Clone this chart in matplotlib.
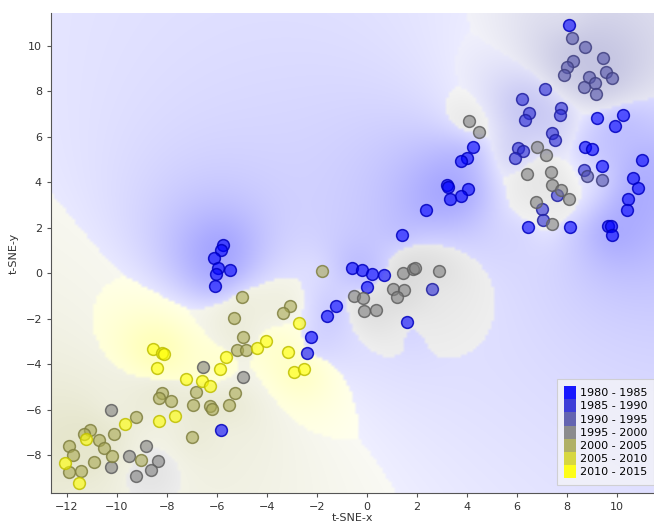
import numpy as np
import matplotlib
matplotlib.use("Agg")
import matplotlib.pyplot as plt
from matplotlib.patches import Patch

# classes (period of the record), colours go blue -> gray -> yellow
periods = ["1980 - 1985", "1985 - 1990", "1990 - 1995", "1995 - 2000",
           "2000 - 2005", "2005 - 2010", "2010 - 2015"]
period_colors = [(0, 0, 255), (43, 43, 213), (85, 85, 170), (128, 128, 128),
                 (170, 170, 85), (213, 213, 43), (255, 255, 0)]

# t-SNE coordinates, one list per period
pts_1980 = [(8.09, 10.9), (9.19, 6.8), (10.25, 6.93), (9.93, 6.45), (8.73, 5.54), (8.99, 5.45),
            (11.01, 4.97), (9.41, 4.72), (10.65, 4.19), (10.83, 3.72), (10.44, 3.27), (10.4, 2.77),
            (6.43, 2.04), (8.12, 2.04), (9.64, 2.07), (9.75, 2.05), (9.8, 1.67),
            (4.23, 5.52), (3.99, 5.07), (3.76, 4.92), (3.19, 3.87), (3.25, 3.8), (4.05, 3.69),
            (3.77, 3.4), (3.32, 3.27), (2.36, 2.77), (1.4, 1.67),
            (-5.75, 1.23), (-5.84, 1.01), (-6.12, 0.64), (-5.95, 0.2), (-5.48, 0.13),
            (-6.05, -0.04), (-6.08, -0.57),
            (-0.61, 0.23), (-0.21, 0.13), (0.21, -0.04), (0.69, -0.09), (-0.01, -0.62),
            (1.59, -2.15), (-1.25, -1.45), (-1.59, -1.9), (-2.25, -2.8), (-2.39, -3.53),
            (-5.85, -6.89)]
pts_1985 = [(7.11, 8.09), (6.2, 7.63), (6.47, 7.05), (6.31, 6.73), (7.77, 7.27), (7.73, 6.93),
            (7.39, 6.17), (7.52, 5.85), (6.03, 5.51), (6.25, 5.35), (5.91, 5.04), (8.68, 4.53),
            (7.59, 3.43), (7.0, 2.83), (7.03, 2.34), (2.59, -0.72)]
pts_1990 = [(8.2, 10.34), (8.71, 9.92), (9.44, 9.46), (8.24, 9.33), (8.01, 9.07), (7.87, 8.69),
            (9.56, 8.82), (9.8, 8.57), (8.89, 8.6), (9.12, 8.37), (8.68, 8.19), (9.16, 7.88),
            (8.79, 4.28), (9.39, 4.09)]
pts_1995 = [(4.08, 6.68), (4.49, 6.21), (6.81, 5.54), (7.17, 5.2), (6.39, 4.34), (7.35, 4.43),
            (7.39, 3.87), (7.76, 3.65), (8.09, 3.27), (6.75, 3.13), (7.39, 2.17),
            (1.43, -0.01), (1.85, 0.16), (1.92, 0.22), (2.88, 0.09), (1.05, -0.69), (1.49, -0.75),
            (1.2, -1.04), (-0.51, -1.01), (-0.16, -1.1), (-0.13, -1.66), (0.35, -1.64),
            (-4.95, -4.59), (-6.57, -4.12), (-10.25, -6.0), (-8.84, -7.62), (-9.51, -8.03),
            (-8.37, -8.26), (-10.24, -8.54), (-8.63, -8.67), (-9.24, -8.91)]
pts_2000 = [(-1.81, 0.09), (-5.0, -1.07), (-3.09, -1.44), (-3.37, -1.77), (-5.33, -1.99),
            (-4.95, -2.8), (-5.21, -3.38), (-4.84, -3.38), (-6.85, -5.22), (-8.21, -5.26),
            (-8.32, -5.49), (-7.84, -5.61), (-5.28, -5.26), (-6.97, -5.79), (-6.28, -5.85),
            (-6.19, -5.98), (-5.53, -5.79), (-9.25, -6.31), (-6.99, -7.22), (-11.07, -6.92),
            (-11.33, -7.08), (-10.13, -7.09), (-10.72, -7.34), (-10.52, -7.71), (-11.91, -7.59),
            (-11.75, -8.0), (-10.21, -8.04), (-9.04, -8.22), (-10.93, -8.32), (-11.91, -8.73),
            (-11.45, -8.69)]
pts_2005 = []
pts_2010 = [(-2.71, -2.21), (-4.03, -2.97), (-4.39, -3.28), (-5.64, -3.68), (-3.17, -3.46),
            (-5.87, -4.2), (-2.91, -4.37), (-2.52, -4.24), (-8.57, -3.34), (-8.21, -3.53),
            (-8.11, -3.58), (-8.39, -4.16), (-7.24, -4.66), (-6.6, -4.76), (-6.27, -4.95),
            (-7.68, -6.27), (-9.69, -6.64), (-8.31, -6.52), (-11.25, -7.3), (-12.08, -8.37),
            (-11.52, -9.22)]

groups = [pts_1980, pts_1985, pts_1990, pts_1995, pts_2000, pts_2005, pts_2010]

xlim = (-12.64, 11.48)
ylim = (-9.67, 11.43)

fig = plt.figure(figsize=(6.54, 5.23), dpi=100)
ax = fig.add_axes([51 / 654, 30 / 523, 603 / 654, 480 / 523])

# class region background: inverse-distance vote of all points,
# dominant class colour, faded by how clear the vote is
xs = np.concatenate([np.array(g)[:, 0] for g in groups if g])
ys = np.concatenate([np.array(g)[:, 1] for g in groups if g])
lab = np.concatenate([np.full(len(g), i) for i, g in enumerate(groups) if g])
n_present = len(np.unique(lab))

gx = np.linspace(xlim[0], xlim[1], 200)
gy = np.linspace(ylim[0], ylim[1], 170)
GX, GY = np.meshgrid(gx, gy)
d2 = (GX.ravel()[:, None] - xs[None, :]) ** 2 + (GY.ravel()[:, None] - ys[None, :]) ** 2
w = 1.0 / (d2 + 1.2) ** 1.2
scores = np.zeros((d2.shape[0], len(groups)))
for c in range(len(groups)):
    scores[:, c] = (w * (lab == c)[None, :]).sum(axis=1)
p = scores / scores.sum(axis=1, keepdims=True)
major = p.argmax(axis=1)
dom = np.clip((p.max(axis=1) - 1 / n_present) / (1 - 1 / n_present), 0, 1)
alpha = 0.45 * dom ** 0.85
cols = np.array(period_colors) / 255.0
img = np.ones((len(gy) * len(gx), 3))
img = img * (1 - alpha[:, None]) + cols[major] * alpha[:, None]
img = img.reshape(len(gy), len(gx), 3)
ax.imshow(img, extent=(xlim[0], xlim[1], ylim[0], ylim[1]), origin="lower",
          aspect="auto", interpolation="bilinear", zorder=0)

for i, g in enumerate(groups):
    if not g:
        continue
    arr = np.array(g)
    c = np.array(period_colors[i]) / 255.0
    ax.scatter(arr[:, 0], arr[:, 1], s=72, facecolor=(*c, 0.6),
               edgecolor=(*(c * 0.75), 0.85), linewidth=1.1, zorder=3)

ax.set_xlim(xlim)
ax.set_ylim(ylim)
ax.set_xticks(range(-12, 11, 2))
ax.set_yticks(range(-8, 11, 2))
for s in ["top", "right"]:
    ax.spines[s].set_visible(False)
for s in ["left", "bottom"]:
    ax.spines[s].set_color("#555555")
ax.tick_params(labelsize=8, length=3, color="#555555", labelcolor="#333333")
ax.set_xlabel("t-SNE-x", fontsize=8, color="#333333", labelpad=1)
ax.set_ylabel("t-SNE-y", fontsize=8, color="#333333", labelpad=5)

handles = [Patch(facecolor=np.array(c) / 255.0, edgecolor="none", alpha=0.9, label=p_)
           for p_, c in zip(periods, period_colors)]
leg = ax.legend(handles=handles, loc="lower right", bbox_to_anchor=(1.01, 0.005),
                fontsize=8, handlelength=1.1, handleheight=1.45, handletextpad=0.4,
                labelspacing=0.0, borderpad=0.6, fancybox=False, framealpha=0.85)
leg.get_frame().set_facecolor("#f2f2f8")
leg.get_frame().set_edgecolor("#cccccc")
leg.get_frame().set_linewidth(0.8)

fig.savefig("out.png", dpi=100)
